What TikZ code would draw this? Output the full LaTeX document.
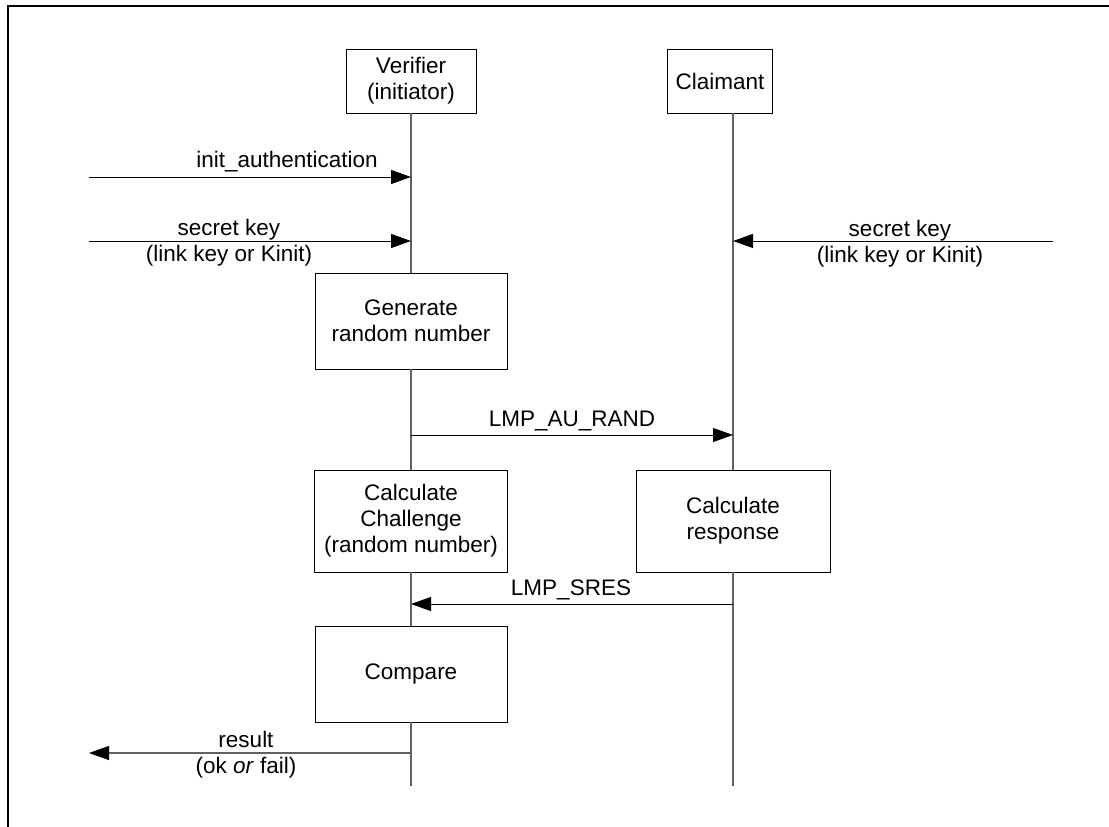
\documentclass[tikz,border=0pt]{standalone}
\usepackage{fontspec}
\setmainfont{Liberation Sans}
\usetikzlibrary{arrows.meta}
\begin{document}
\begin{tikzpicture}[x=1pt,y=-1pt,
  every node/.style={font=\fontsize{22.5}{26}\selectfont},
  box/.style={draw=black,line width=0.9pt,inner sep=0pt,align=center,fill=white},
  lbl/.style={anchor=base,inner sep=0pt},
  life/.style={draw=black!62,line width=1.1pt},
  msg/.style={draw=black,line width=0.9pt,-{Triangle[length=20pt,width=14pt]}},
  msggray/.style={draw=black!62,line width=1.1pt,-{Triangle[length=20pt,width=14pt,fill=black,color=black]}}
]
\useasboundingbox (0,0) rectangle (1109,827);
\fill[white] (0,0) rectangle (1109,827);
% frame
\draw[line width=2.2pt] (8,840) -- (8,6) -- (1120,6);

% boxes
\node[box,minimum width=130pt,minimum height=64pt] (ver) at (411,81) {Verifier\\(initiator)};
\node[box,minimum width=105pt,minimum height=64pt] (cla) at (720,81) {Claimant};
\node[box,minimum width=192pt,minimum height=96pt] (gen) at (411,321) {Generate\\random number};
\node[box,minimum width=193pt,minimum height=102pt] (calc) at (411,521) {Calculate\\Challenge\\(random number)};
\node[box,minimum width=194pt,minimum height=102pt] (resp) at (733,521) {Calculate\\response};
\node[box,minimum width=192pt,minimum height=96pt] (cmp) at (411,674) {Compare};

% lifeline points
\coordinate (vtop) at (411,113);
\coordinate (ctop) at (733,113);
\coordinate (vend) at (411,786);
\coordinate (cend) at (733,786);
\coordinate (vInit) at (411,177);
\coordinate (vKey) at (411,241);
\coordinate (cKey) at (733,241);
\coordinate (vRand) at (411,435);
\coordinate (cRand) at (733,435);
\coordinate (vSres) at (411,604);
\coordinate (cSres) at (733,604);
\coordinate (vRes) at (411,753);
% free ends
\coordinate (inA) at (89,177);
\coordinate (inB) at (89,241);
\coordinate (inC) at (1053,241);
\coordinate (outR) at (89,753);

% lifelines
\draw[life] (vtop) -- (gen.north);
\draw[life] (gen.south) -- (calc.north);
\draw[life] (calc.south) -- (cmp.north);
\draw[life] (cmp.south) -- (vend);
\draw[life] (ctop) -- (ctop |- resp.north);
\draw[life] (ctop |- resp.south) -- (cend);

% messages
\draw[msg] (inA) -- (vInit);
\node[lbl] (tInit) at (287,167) {init\_authentication};

\draw[msg] (inB) -- (vKey);
\node[lbl] (tKeyL1) at (229,235) {secret key};
\node[lbl] (tKeyL2) at (229,261) {(link key or Kinit)};

\draw[msg] (inC) -- (cKey);
\node[lbl] (tKeyR1) at (900,236) {secret key};
\node[lbl] (tKeyR2) at (900,262) {(link key or Kinit)};

\draw[msg] (vRand) -- (cRand);
\node[lbl] (tRand) at (572,426) {LMP\_AU\_RAND};

\draw[msg] (cSres) -- (vSres);
\node[lbl] (tSres) at (571,595) {LMP\_SRES};

\draw[msggray] (vRes) -- (outR);
\node[lbl] (tRes1) at (246,747) {result};
\node[lbl] (tRes2) at (246,773) {(ok \textit{or} fail)};
\end{tikzpicture}
\end{document}
